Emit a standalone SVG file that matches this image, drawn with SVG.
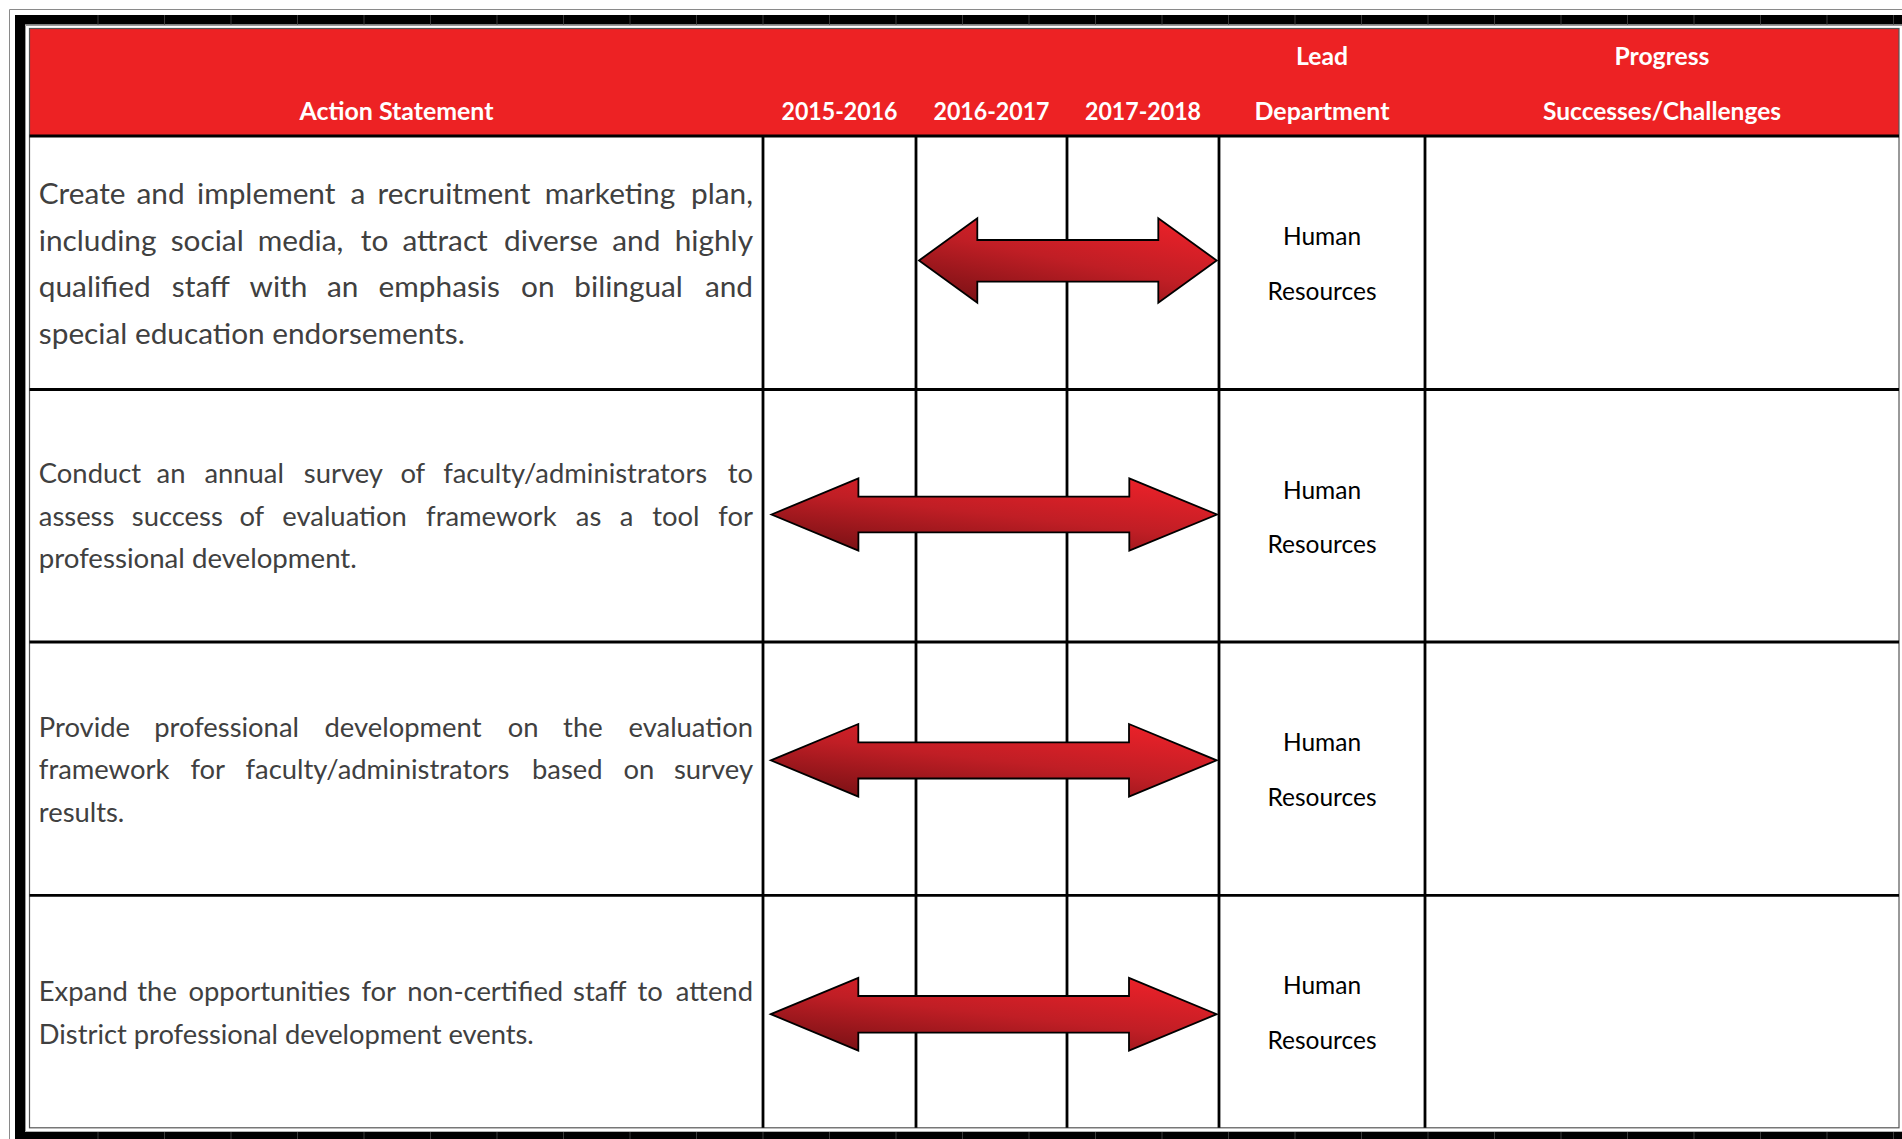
<svg xmlns="http://www.w3.org/2000/svg" width="1902" height="1139" viewBox="0 0 1902 1139">
<style>
.body{font-family:Lato,"Liberation Sans",sans-serif;fill:#404040}
.r1{font-size:29.8px}
.r2{font-size:27.4px}
.hdr{font-family:Lato,"Liberation Sans",sans-serif;font-weight:700;fill:#ffffff;font-size:24.5px;text-anchor:middle}
.dept{font-family:Lato,"Liberation Sans",sans-serif;font-size:24.5px;fill:#000000;text-anchor:middle}
.grid{stroke:#000000;stroke-width:2.8;fill:none}
.arrow{stroke:#000000;stroke-width:1.8;stroke-linejoin:miter;fill:url(#ag)}
.tick{stroke:#3a3a3a;stroke-width:1}
.e{text-anchor:end}
</style>
<defs>
<linearGradient id="ag" x1="0.15" y1="1" x2="0.85" y2="0">
<stop offset="0" stop-color="#7a1115"/>
<stop offset="0.5" stop-color="#c01e25"/>
<stop offset="1" stop-color="#ec2129"/>
</linearGradient>
</defs>
<rect width="1902" height="1139" fill="#ffffff"/>
<g id="page-frame">
<path d="M9.5 1139 V9.5 H1902" fill="none" stroke="#8a8a8a" stroke-width="1"/>
<rect x="15" y="15" width="1887" height="9.5" fill="#000"/>
<rect x="15" y="15" width="10" height="1124" fill="#000"/>
<rect x="15" y="1131.7" width="1887" height="7.3" fill="#000"/>
<path d="M25.5 1131 V25.5 H1902" fill="none" stroke="#9a9a9a" stroke-width="1"/>
<g class="tick">
<path d="M98 15v9.5M164.5 15v9.5M231 15v9.5M297.5 15v9.5M364 15v9.5M430.5 15v9.5M497 15v9.5M563.5 15v9.5M630 15v9.5M696.5 15v9.5M763 15v9.5M829.5 15v9.5M896 15v9.5M962.5 15v9.5M1029 15v9.5M1095.5 15v9.5M1162 15v9.5M1228.5 15v9.5M1295 15v9.5M1361.5 15v9.5M1428 15v9.5M1494.5 15v9.5M1561 15v9.5M1627.5 15v9.5M1694 15v9.5M1760.5 15v9.5M1827 15v9.5M1893.5 15v9.5"/>
<path d="M98 1132v7M164.5 1132v7M231 1132v7M297.5 1132v7M364 1132v7M430.5 1132v7M497 1132v7M563.5 1132v7M630 1132v7M696.5 1132v7M763 1132v7M829.5 1132v7M896 1132v7M962.5 1132v7M1029 1132v7M1095.5 1132v7M1162 1132v7M1228.5 1132v7M1295 1132v7M1361.5 1132v7M1428 1132v7M1494.5 1132v7M1561 1132v7M1627.5 1132v7M1694 1132v7M1760.5 1132v7M1827 1132v7M1893.5 1132v7"/>
</g>
</g>
<g id="header">
<rect x="30" y="29" width="1869" height="107" fill="#ed2224"/>
<text class="hdr" x="396.5" y="119.8" textLength="194" lengthAdjust="spacingAndGlyphs">Action Statement</text>
<text class="hdr" x="839.5" y="119.8" textLength="116" lengthAdjust="spacingAndGlyphs">2015-2016</text>
<text class="hdr" x="991.5" y="119.8" textLength="116" lengthAdjust="spacingAndGlyphs">2016-2017</text>
<text class="hdr" x="1143" y="119.8" textLength="116" lengthAdjust="spacingAndGlyphs">2017-2018</text>
<text class="hdr" x="1322" y="64.8" textLength="52" lengthAdjust="spacingAndGlyphs">Lead</text>
<text class="hdr" x="1322" y="119.8" textLength="135" lengthAdjust="spacingAndGlyphs">Department</text>
<text class="hdr" x="1662" y="64.8" textLength="95" lengthAdjust="spacingAndGlyphs">Progress</text>
<text class="hdr" x="1662" y="119.8" textLength="238" lengthAdjust="spacingAndGlyphs">Successes/Challenges</text>
</g>
<g id="table-grid">
<rect x="29.5" y="28.5" width="1869.5" height="1099.3" fill="none" stroke="#555" stroke-width="1.2"/>
<line class="grid" x1="29.5" y1="136" x2="1899" y2="136" stroke-width="2.6"/>
<line class="grid" x1="29.5" y1="389.5" x2="1899" y2="389.5"/>
<line class="grid" x1="29.5" y1="642" x2="1899" y2="642"/>
<line class="grid" x1="29.5" y1="895.3" x2="1899" y2="895.3"/>
<line class="grid" x1="763" y1="136" x2="763" y2="1127.8"/>
<line class="grid" x1="916" y1="136" x2="916" y2="1127.8"/>
<line class="grid" x1="1067" y1="136" x2="1067" y2="1127.8"/>
<line class="grid" x1="1219" y1="136" x2="1219" y2="1127.8"/>
<line class="grid" x1="1425" y1="136" x2="1425" y2="1127.8"/>
</g>
<g id="row-1">
<text class="body r1" y="204.4"><tspan x="38.8">Create</tspan><tspan x="136.5">and</tspan><tspan x="197">implement</tspan><tspan x="350.6">a</tspan><tspan x="377.5">recruitment</tspan><tspan x="544.7">marketing</tspan><tspan class="e" x="753">plan,</tspan></text>
<text class="body r1" y="250.9"><tspan x="38.8">including</tspan><tspan x="170.7">social</tspan><tspan x="257.7">media,</tspan><tspan x="360.8">to</tspan><tspan x="402.5">attract</tspan><tspan x="504.1">diverse</tspan><tspan x="612.3">and</tspan><tspan class="e" x="753">highly</tspan></text>
<text class="body r1" y="297.4"><tspan x="38.8">qualified</tspan><tspan x="171.8">staff</tspan><tspan x="249.5">with</tspan><tspan x="326.9">an</tspan><tspan x="378.6">emphasis</tspan><tspan x="521">on</tspan><tspan x="574.3">bilingual</tspan><tspan class="e" x="753">and</tspan></text>
<text class="body r1" x="38.8" y="343.9" textLength="426" lengthAdjust="spacingAndGlyphs">special education endorsements.</text>
<text class="dept" x="1322" y="245">Human</text>
<text class="dept" x="1322" y="299.5">Resources</text>
</g>
<g id="row-2">
<text class="body r2" y="483.4"><tspan x="38.8">Conduct</tspan><tspan x="156.6">an</tspan><tspan x="204.4">annual</tspan><tspan x="303.8">survey</tspan><tspan x="400.4">of</tspan><tspan x="443.2">faculty/administrators</tspan><tspan class="e" x="753">to</tspan></text>
<text class="body r2" y="525.9"><tspan x="38.8">assess</tspan><tspan x="131.8">success</tspan><tspan x="239.4">of</tspan><tspan x="282.3">evaluation</tspan><tspan x="426.1">framework</tspan><tspan x="575.8">as</tspan><tspan x="619.8">a</tspan><tspan x="652.3">tool</tspan><tspan class="e" x="753">for</tspan></text>
<text class="body r2" x="38.8" y="568.4" textLength="318" lengthAdjust="spacingAndGlyphs">professional development.</text>
<text class="dept" x="1322" y="498.5">Human</text>
<text class="dept" x="1322" y="553">Resources</text>
</g>
<g id="row-3">
<text class="body r2" y="737"><tspan x="38.8">Provide</tspan><tspan x="154.2">professional</tspan><tspan x="324.5">development</tspan><tspan x="507.7">on</tspan><tspan x="563.1">the</tspan><tspan class="e" x="753">evaluation</tspan></text>
<text class="body r2" y="779.4"><tspan x="38.8">framework</tspan><tspan x="190.4">for</tspan><tspan x="245.5">faculty/administrators</tspan><tspan x="532">based</tspan><tspan x="623.4">on</tspan><tspan class="e" x="753">survey</tspan></text>
<text class="body r2" x="38.8" y="821.9" textLength="85.5" lengthAdjust="spacingAndGlyphs">results.</text>
<text class="dept" x="1322" y="751">Human</text>
<text class="dept" x="1322" y="805.5">Resources</text>
</g>
<g id="row-4">
<text class="body r2" y="1001.4"><tspan x="38.8">Expand</tspan><tspan x="137.3">the</tspan><tspan x="188.4">opportunities</tspan><tspan x="361.4">for</tspan><tspan x="407.3">non-certified</tspan><tspan x="573.1">staff</tspan><tspan x="637.6">to</tspan><tspan class="e" x="753">attend</tspan></text>
<text class="body r2" x="38.8" y="1043.9" textLength="495" lengthAdjust="spacingAndGlyphs">District professional development events.</text>
<text class="dept" x="1322" y="993.5">Human</text>
<text class="dept" x="1322" y="1049">Resources</text>
</g>
<g id="timeline-arrows">
<polygon id="arrow-1" class="arrow" points="919,260.5 977.3,218.3 977.3,240 1158.3,240 1158.3,218.3 1216.7,260.5 1158.3,302.7 1158.3,281.7 977.3,281.7 977.3,302.7"/>
<polygon id="arrow-2" class="arrow" points="771.5,514.5 858.4,478.3 858.4,496.6 1129.3,496.6 1129.3,478.3 1217,514.5 1129.3,550.7 1129.3,532.4 858.4,532.4 858.4,550.7"/>
<polygon id="arrow-3" class="arrow" points="770.8,760.3 858.3,724 858.3,742.3 1129,742.3 1129,724 1216.7,760.3 1129,796.6 1129,778.5 858.3,778.5 858.3,796.6"/>
<polygon id="arrow-4" class="arrow" points="770.8,1014.2 858.3,977.8 858.3,996 1129,996 1129,977.8 1216.7,1014.2 1129,1050.6 1129,1032.6 858.3,1032.6 858.3,1050.6"/>
</g>
</svg>
